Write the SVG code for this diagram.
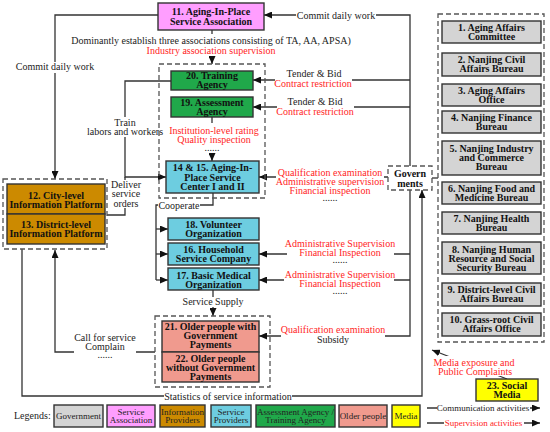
<svg xmlns="http://www.w3.org/2000/svg" width="550" height="432" viewBox="0 0 550 432">
<style>
.n{stroke:#333;stroke-width:1.4}
.t{font-family:"Liberation Serif","Times New Roman",serif;font-size:10px;font-weight:bold;text-anchor:middle;fill:#111}
.l{font-family:"Liberation Serif","Times New Roman",serif;font-size:10px;text-anchor:middle;fill:#222}
.r{fill:#FF2525}
.g{font-family:"Liberation Serif","Times New Roman",serif;font-size:9px;text-anchor:middle;fill:#222}
.c{stroke:#333;stroke-width:1.3;fill:none}
.a{marker-end:url(#ah)}
.m{fill:#fff}
.d{fill:none;stroke:#555;stroke-width:1.3;stroke-dasharray:5 3}
.gray{fill:#D4D4D4}.pink{fill:#FF9EFF}.gold{fill:#CC8A00}.cyan{fill:#6DCDE0}.green{fill:#20A84A}.salmon{fill:#F09A8E}.yellow{fill:#FFFF00}
</style>
<defs>
<marker id="ah" markerUnits="userSpaceOnUse" markerWidth="8" markerHeight="7" refX="8" refY="3.5" orient="auto"><path d="M0,0 L8,3.5 L0,7 z" fill="#111"/></marker>
</defs>
<rect width="550" height="432" fill="#fff"/>

<g id="connectors">
<path class="c a" d="M410,166 V15 H264"/>
<path class="c a" d="M158,15 H55 V179"/>
<path class="c a" d="M212,30 V64"/>
<path class="c a" d="M410,80 H253"/>
<path class="c a" d="M410,107 H253"/>
<path class="c a" d="M212,117 V161"/>
<path class="c a" d="M171,81 H125 V177 H166"/>
<path class="c" d="M107,215 H125 V177"/>
<path class="c a" d="M388,177 H259"/>
<path class="c" d="M213,193 V205 H156 V280"/>
<path class="c a" d="M156,229 H168"/>
<path class="c a" d="M156,254 H168"/>
<path class="c a" d="M156,280 H168"/>
<path class="c a" d="M410,190 V336 H259"/>
<path class="c a" d="M410,254 H259"/>
<path class="c a" d="M410,280 H259"/>
<path class="c a" d="M213,290 V316"/>
<path class="c a" d="M155,352 H55 V250"/>
<path class="c a" d="M22,249 V396 H422 V190"/>
<path class="c" d="M432,178 H438"/>
<path class="c a" d="M507,379 L432,350"/>

<rect class="m" x="296" y="10" width="80" height="11"/>
<rect class="m" x="15" y="62" width="80" height="11"/>
<rect class="m" x="195" y="34" width="34" height="22"/>
<rect class="m" x="275" y="70" width="77" height="18"/>
<rect class="m" x="277" y="97" width="77" height="18"/>
<rect class="m" x="200" y="123" width="24" height="30"/>
<rect class="m" x="110" y="117" width="30" height="20"/>
<rect class="m" x="112" y="180" width="28" height="28"/>
<rect class="m" x="276" y="170" width="108" height="12"/>
<rect class="m" x="158" y="199" width="42" height="11"/>
<rect class="m" x="287" y="249" width="107" height="10"/>
<rect class="m" x="284" y="274" width="110" height="10"/>
<rect class="m" x="281" y="330" width="104" height="10"/>
<rect class="m" x="183" y="297" width="60" height="10"/>
<rect class="m" x="74" y="344" width="62" height="12"/>
<rect class="m" x="164" y="391" width="128" height="10"/>
<rect class="m" x="434" y="356" width="82" height="20"/>

<text class="l" x="336" y="19">Commit daily work</text>
<text class="l" x="55" y="69.5">Commit daily work</text>
<text class="l" x="211" y="43.5">Dominantly establish three associations consisting of TA, AA, APSA)</text>
<text class="l r" x="211" y="53.5">Industry association supervision</text>
<text class="l" x="314" y="76.5">Tender &amp; Bid</text>
<text class="l r" x="313" y="86.5">Contract restriction</text>
<text class="l" x="315" y="104.5">Tender &amp; Bid</text>
<text class="l r" x="315" y="114.5">Contract restriction</text>
<text class="l r" x="214" y="133.5">Institution-level rating</text>
<text class="l r" x="214" y="142.5">Quality inspection</text>
<text class="l" x="212" y="151">......</text>
<text class="l" x="125" y="125.5">Train</text>
<text class="l" x="125" y="134.5">labors and workers</text>
<text class="l" x="126" y="187.5">Deliver</text>
<text class="l" x="126" y="196.5">service</text>
<text class="l" x="126" y="206.5">orders</text>
<text class="l r" x="330" y="175.5">Qualification examination</text>
<text class="l r" x="330" y="184.5">Administrative supervision</text>
<text class="l r" x="330" y="193.5">Financial inspection</text>
<text class="l" x="330" y="201">......</text>
<text class="l" x="179" y="208.5">Cooperate</text>
<text class="l r" x="340" y="246.5">Administrative Supervision</text>
<text class="l r" x="340" y="255.5">Financial Inspection</text>
<text class="l" x="340" y="263">......</text>
<text class="l r" x="340" y="277.5">Administrative Supervision</text>
<text class="l r" x="340" y="286.5">Financial Inspection</text>
<text class="l" x="340" y="294">......</text>
<text class="l" x="213" y="304.5">Service Supply</text>
<text class="l r" x="333" y="332.5">Qualification examination</text>
<text class="l" x="333" y="342.5">Subsidy</text>
<text class="l" x="105" y="340.5">Call for service</text>
<text class="l" x="105" y="349.5">Complain</text>
<text class="l" x="105" y="358">......</text>
<text class="l" x="228" y="399.5">Statistics of service information</text>
<text class="l r" x="474" y="365.5">Media exposure and</text>
<text class="l r" x="475" y="374.5">Public Complaints</text>
</g>

<rect class="d" x="3" y="179" width="104" height="70"/>
<rect class="d" x="159" y="64" width="106" height="134"/>
<rect class="d" x="155" y="316" width="115" height="71"/>
<rect class="d" x="438" y="14" width="106" height="328"/>

<g id="n11"><rect class="n pink" x="158" y="3" width="106" height="27"/><text class="t" x="211" y="15">11. Aging-In-Place</text><text class="t" x="211" y="24.5">Service Association</text></g>
<g id="n20"><rect class="n green" x="171" y="71" width="82" height="19"/><text class="t" x="212" y="79">20. Training</text><text class="t" x="212" y="88">Agency</text></g>
<g id="n19"><rect class="n green" x="171" y="97" width="82" height="20"/><text class="t" x="212" y="105.5">19. Assessment</text><text class="t" x="212" y="114.5">Agency</text></g>
<g id="n14"><rect class="n cyan" x="166" y="161" width="93" height="32"/><text class="t" x="212.5" y="171">14 &amp; 15. Aging-In-</text><text class="t" x="212.5" y="180.5">Place Service</text><text class="t" x="212.5" y="190">Center I and  II</text></g>
<g id="n18"><rect class="n cyan" x="168" y="218" width="91" height="22"/><text class="t" x="213.5" y="227.5">18. Volunteer</text><text class="t" x="213.5" y="236.5">Organization</text></g>
<g id="n16"><rect class="n cyan" x="168" y="243" width="91" height="22"/><text class="t" x="213.5" y="252.5">16. Household</text><text class="t" x="213.5" y="262">Service Company</text></g>
<g id="n17"><rect class="n cyan" x="168" y="268" width="91" height="22"/><text class="t" x="213.5" y="279">17. Basic Medical</text><text class="t" x="213.5" y="288">Organization</text></g>
<g id="n21"><rect class="n salmon" x="162" y="321" width="97" height="31"/><text class="t" x="210.5" y="329.5">21. Older people with</text><text class="t" x="210.5" y="338.5">Government</text><text class="t" x="210.5" y="347.5">Payments</text></g>
<g id="n22"><rect class="n salmon" x="162" y="352" width="97" height="30"/><text class="t" x="210.5" y="361.5">22. Older people</text><text class="t" x="210.5" y="370.5">without Government</text><text class="t" x="210.5" y="379.5">Payments</text></g>
<g id="n12"><rect class="n gold" x="7" y="184" width="98" height="30"/><text class="t" x="56" y="198.5">12. City-level</text><text class="t" x="56" y="208">Information Platform</text></g>
<g id="n13"><rect class="n gold" x="7" y="214" width="98" height="30"/><text class="t" x="56" y="227.5">13. District-level</text><text class="t" x="56" y="237">Information Platform</text></g>
<g id="gov"><rect class="d" x="388" y="166" width="44" height="24" fill="#fff"/><text class="t" x="410" y="176.5">Govern</text><text class="t" x="410" y="186.5">ments</text></g>

<g id="n1"><rect class="n gray" x="442" y="21" width="99" height="22"/><text class="t" x="491.5" y="31">1. Aging Affairs</text><text class="t" x="491.5" y="40">Committee</text></g>
<g id="n2"><rect class="n gray" x="442" y="53" width="99" height="23"/><text class="t" x="491.5" y="62.5">2. Nanjing Civil</text><text class="t" x="491.5" y="72">Affairs Bureau</text></g>
<g id="n3"><rect class="n gray" x="442" y="84" width="99" height="22"/><text class="t" x="491.5" y="94">3. Aging Affairs</text><text class="t" x="491.5" y="103">Office</text></g>
<g id="n4"><rect class="n gray" x="442" y="111" width="99" height="22"/><text class="t" x="491.5" y="121">4. Nanjing Finance</text><text class="t" x="491.5" y="130">Bureau</text></g>
<g id="n5"><rect class="n gray" x="442" y="141" width="99" height="34"/><text class="t" x="491.5" y="151.5">5. Nanjing Industry</text><text class="t" x="491.5" y="160.5">and Commerce</text><text class="t" x="491.5" y="169.5">Bureau</text></g>
<g id="n6"><rect class="n gray" x="442" y="182" width="99" height="22"/><text class="t" x="491.5" y="191.5">6. Nanjing Food and</text><text class="t" x="491.5" y="201">Medicine Bureau</text></g>
<g id="n7"><rect class="n gray" x="442" y="212" width="99" height="22"/><text class="t" x="491.5" y="221.5">7. Nanjing Health</text><text class="t" x="491.5" y="231">Bureau</text></g>
<g id="n8"><rect class="n gray" x="442" y="242" width="99" height="32"/><text class="t" x="491.5" y="252.5">8. Nanjing Human</text><text class="t" x="491.5" y="261.5">Resource and Social</text><text class="t" x="491.5" y="271">Security Bureau</text></g>
<g id="n9"><rect class="n gray" x="442" y="283" width="99" height="23"/><text class="t" x="491.5" y="292.5">9. District-level Civil</text><text class="t" x="491.5" y="302">Affairs Bureau</text></g>
<g id="n10"><rect class="n gray" x="442" y="313" width="99" height="23"/><text class="t" x="491.5" y="322.5">10. Grass-root Civil</text><text class="t" x="491.5" y="332">Affairs Office</text></g>
<g id="n23"><rect class="n yellow" x="476" y="379" width="62" height="22"/><text class="t" x="507" y="388.5">23. Social</text><text class="t" x="507" y="398">Media</text></g>

<g id="legend">
<text x="14" y="419" style="font-family:'Liberation Serif','Times New Roman',serif;font-size:10px;fill:#222">Legends:</text>
<rect class="n gray" x="54" y="405" width="49" height="22"/><text class="g" x="78.5" y="419">Government</text>
<rect class="n pink" x="107" y="405" width="48" height="22"/><text class="g" x="131" y="414.5">Service</text><text class="g" x="131" y="423">Association</text>
<rect class="n gold" x="160" y="405" width="45" height="22"/><text class="g" x="182.5" y="414.5">Information</text><text class="g" x="182.5" y="423">Providers</text>
<rect class="n cyan" x="211" y="405" width="40" height="22"/><text class="g" x="231" y="414.5">Service</text><text class="g" x="231" y="423">Providers</text>
<rect class="n green" x="256" y="405" width="79" height="22"/><text class="g" x="295.5" y="414.5">Assessment Agency /</text><text class="g" x="295.5" y="423">Training Agency</text>
<rect class="n salmon" x="339" y="405" width="48" height="22"/><text class="g" x="363" y="419">Older people</text>
<rect class="n yellow" x="392" y="405" width="28" height="22"/><text class="g" x="406" y="419">Media</text>
<path class="c a" d="M427,408 H540"/>
<path class="c a" d="M427,423 H540"/>
<rect class="m" x="437" y="403" width="93" height="10"/>
<rect class="m" x="444" y="418" width="80" height="10"/>
<text class="g" x="483" y="411">Communication activities</text>
<text class="g" x="483.5" y="426" style="fill:#FF2525">Supervision activities</text>
</g>
</svg>
